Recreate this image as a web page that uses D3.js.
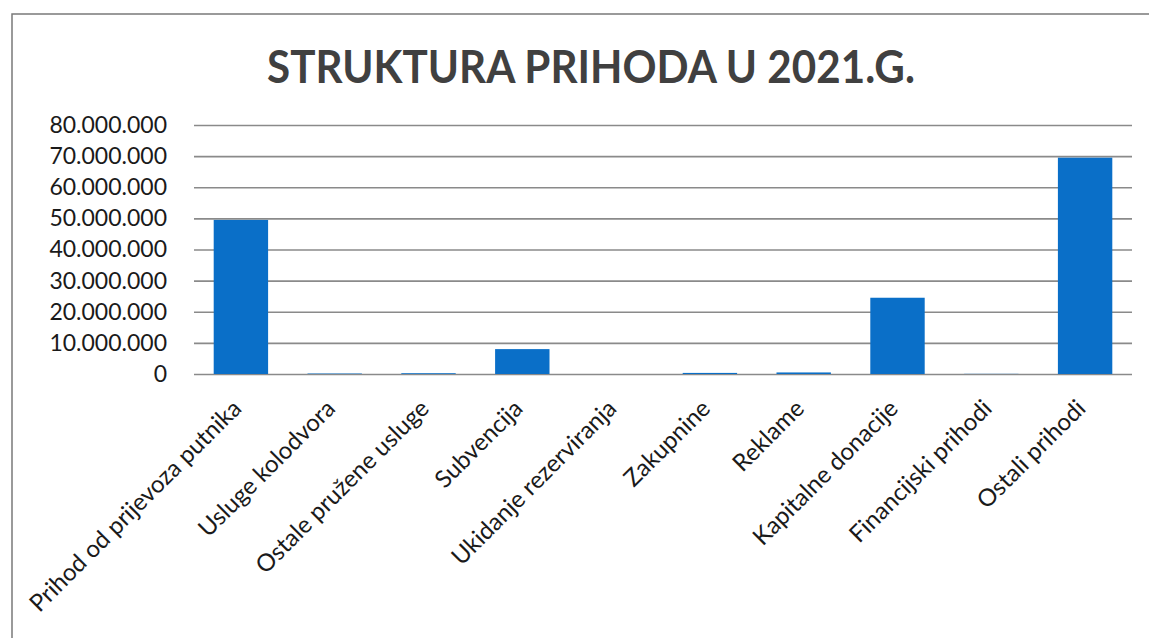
<!DOCTYPE html>
<html lang="hr">
<head>
<meta charset="UTF-8">
<title>Struktura prihoda u 2021.g.</title>
<script src="https://d3js.org/d3.v7.min.js"></script>
<style>
  body { margin: 0; background: #fff; }
  svg { display: block; }
  .title { font-family: Lato, "Open Sans", sans-serif; font-weight: 700; fill: #404040; }
  .tick text { font-family: Lato, "Open Sans", sans-serif; fill: #1a1a1a; }
</style>
</head>
<body>
<div id="chart"></div>
<script>
// data
const categories = [
  "Prihod od prijevoza putnika",
  "Usluge kolodvora",
  "Ostale pružene usluge",
  "Subvencija",
  "Ukidanje rezerviranja",
  "Zakupnine",
  "Reklame",
  "Kapitalne donacije",
  "Financijski prihodi",
  "Ostali prihodi"
];
const values = [49500000, 150000, 250000, 8000000, 0, 350000, 500000, 24500000, 50000, 69500000];
const yTicks = [0, 10000000, 20000000, 30000000, 40000000, 50000000, 60000000, 70000000, 80000000];

const W = 1149, H = 638;
const margin = { top: 125, right: 17, bottom: 264, left: 194 };
const width = W - margin.left - margin.right;
const height = H - margin.top - margin.bottom;

const svg = d3.select("#chart").append("svg")
  .attr("width", W)
  .attr("height", H);

// frame (top and left edges visible in the scan)
svg.append("path")
  .attr("d", `M12,${H} L12,14 L${W},14`)
  .attr("fill", "none")
  .attr("stroke", "#7a7a7a")
  .attr("stroke-width", 1.5);

svg.append("text")
  .attr("class", "title")
  .attr("x", 591)
  .attr("y", 83)
  .attr("text-anchor", "middle")
  .style("font-size", "45px")
  .attr("textLength", 648)
  .attr("lengthAdjust", "spacingAndGlyphs")
  .text("STRUKTURA PRIHODA U 2021.G.");

const g = svg.append("g")
  .attr("transform", `translate(${margin.left},${margin.top})`);

const x = d3.scaleBand()
  .domain(categories)
  .range([0, width])
  .paddingInner(0.42)
  .paddingOuter(0.21);

const y = d3.scaleLinear()
  .domain([0, 80000000])
  .range([height, 0]);

const fmt = d => d3.format(",")(d).replace(/,/g, ".");

// gridlines + y labels
const yAxis = g.append("g")
  .call(d3.axisLeft(y).tickValues(yTicks).tickSize(-width).tickPadding(27).tickFormat(fmt));
yAxis.select(".domain").remove();
yAxis.selectAll(".tick line")
  .attr("stroke", "#8a8a8a")
  .attr("stroke-width", 1.6);
yAxis.selectAll(".tick text")
  .style("font-size", "23px");

// bars
g.selectAll(".bar")
  .data(categories)
  .enter()
  .append("rect")
  .attr("class", "bar")
  .attr("x", d => x(d))
  .attr("width", x.bandwidth())
  .attr("y", (d, i) => y(values[i]))
  .attr("height", (d, i) => height - y(values[i]))
  .attr("fill", "#0a6fc8");

// x labels, rotated
const xAxis = g.append("g")
  .attr("transform", `translate(0,${height})`)
  .call(d3.axisBottom(x).tickSize(0).tickPadding(0));
xAxis.select(".domain").remove();
xAxis.selectAll(".tick text")
  .style("font-size", "24px")
  .attr("text-anchor", "end")
  .attr("dy", "0.35em")
  .attr("transform", "translate(-4,30) rotate(-45)");
</script>
</body>
</html>
